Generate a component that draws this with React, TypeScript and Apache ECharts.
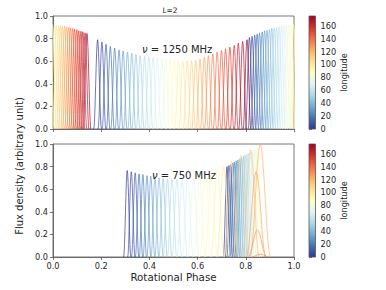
import React, { useEffect, useRef } from "react";
import * as echarts from "echarts";

// ---------- data ----------
const LON_MAX = 175;
const PHASE_TICKS_STEP = 0.2;
const FLUX_TICKS_STEP = 0.2;
const COLORBAR_TICKS = [0, 20, 40, 60, 80, 100, 120, 140, 160];

// normalised pulse profile (offsets in half-widths, relative height)
const PROFILE_U = [-1, -0.875, -0.75, -0.625, -0.5, -0.375, -0.25, -0.125, 0, 0.125, 0.25, 0.375, 0.5, 0.625, 0.75, 0.875, 1];
const PROFILE_V = [0, 0.038, 0.146, 0.309, 0.5, 0.691, 0.854, 0.962, 1, 0.962, 0.854, 0.691, 0.5, 0.309, 0.146, 0.038, 0];

// ν = 1250 MHz panel
const TOP_LON = [0, 5, 10, 15, 20, 25, 30, 35, 40, 45, 50, 55, 60, 65, 70, 75, 80, 85, 90, 95, 100, 105, 110, 115, 120, 125, 130, 135, 140, 145, 150, 155, 160, 165, 170, 175];
const TOP_MAIN_CENTER = [0.185, 0.203, 0.22, 0.238, 0.256, 0.274, 0.291, 0.309, 0.327, 0.344, 0.362, 0.38, 0.398, 0.415, 0.433, 0.451, 0.468, 0.486, 0.504, 0.521, 0.539, 0.557, 0.575, 0.592, 0.61, 0.628, 0.645, 0.663, 0.681, 0.699, 0.716, 0.734, 0.752, 0.769, 0.787, 0.805];
const TOP_MAIN_AMP = [0.79, 0.77, 0.75, 0.73, 0.715, 0.7, 0.69, 0.68, 0.67, 0.66, 0.65, 0.645, 0.64, 0.635, 0.63, 0.625, 0.62, 0.615, 0.61, 0.605, 0.6, 0.6, 0.605, 0.61, 0.62, 0.635, 0.65, 0.665, 0.68, 0.695, 0.71, 0.725, 0.74, 0.76, 0.775, 0.79];
const TOP_WRAP_CENTER = [0.815, 0.826, 0.837, 0.847, 0.857, 0.868, 0.878, 0.888, 0.898, 0.908, 0.918, 0.928, 0.938, 0.948, 0.958, 0.968, 0.978, 0.988, 0.998, 1.006, 1.014, 1.023, 1.031, 1.039, 1.048, 1.056, 1.065, 1.073, 1.082, 1.09, 1.099, 1.107, 1.116, 1.124, 1.133, 1.141];
const TOP_WRAP_AMP = [0.81, 0.82, 0.83, 0.84, 0.85, 0.86, 0.87, 0.875, 0.88, 0.89, 0.895, 0.9, 0.905, 0.91, 0.915, 0.92, 0.92, 0.925, 0.925, 0.92, 0.92, 0.915, 0.915, 0.91, 0.91, 0.905, 0.9, 0.895, 0.89, 0.885, 0.88, 0.87, 0.865, 0.86, 0.85, 0.845];
const TOP_HALF_WIDTH = 0.016;

// ν = 750 MHz panel
const BOT_MAIN_LON = [0, 5, 10, 15, 20, 25, 30, 35, 40, 45, 50, 55, 60, 65, 70, 75, 80, 85, 90, 95, 100, 105, 110, 115, 120, 125, 130, 135];
const BOT_MAIN_CENTER = [0.308, 0.325, 0.341, 0.357, 0.373, 0.39, 0.406, 0.423, 0.44, 0.457, 0.475, 0.494, 0.514, 0.536, 0.559, 0.583, 0.608, 0.633, 0.657, 0.682, 0.708, 0.74, 0.78, 0.82, 0.86, 0.843, 0.848, 0.86];
const BOT_MAIN_AMP = [0.765, 0.755, 0.745, 0.735, 0.73, 0.72, 0.715, 0.71, 0.7, 0.695, 0.69, 0.69, 0.685, 0.685, 0.69, 0.695, 0.705, 0.72, 0.745, 0.775, 0.8, 0.85, 0.9, 0.95, 1.0, 0.755, 0.24, 0.025];
const BOT_MAIN_HALF_WIDTH = [0.015, 0.015, 0.015, 0.015, 0.015, 0.016, 0.016, 0.016, 0.017, 0.017, 0.018, 0.019, 0.02, 0.021, 0.022, 0.023, 0.024, 0.025, 0.026, 0.027, 0.028, 0.03, 0.032, 0.035, 0.042, 0.04, 0.038, 0.035];
const BOT_SECOND_LON = [0, 5, 10, 15, 20, 25, 30, 35, 40, 45, 50, 55, 60, 65, 70, 75, 80, 85];
const BOT_SECOND_CENTER = [0.722, 0.73, 0.737, 0.745, 0.752, 0.76, 0.767, 0.775, 0.782, 0.79, 0.797, 0.805, 0.812, 0.82, 0.827, 0.835, 0.842, 0.85];
const BOT_SECOND_AMP = [0.8, 0.81, 0.82, 0.83, 0.84, 0.85, 0.86, 0.87, 0.88, 0.89, 0.9, 0.91, 0.92, 0.93, 0.94, 0.95, 0.96, 0.965];
const BOT_SECOND_HALF_WIDTH = 0.015;

// ---------- colormap (RdYlBu_r) ----------
const RDYLBU_R = ["#313695", "#4575b4", "#74add1", "#abd9e9", "#e0f3f8", "#ffffbf", "#fee090", "#fdae61", "#f46d43", "#d73027", "#a50026"];
function hexRgb(h: string) {
  return [parseInt(h.slice(1, 3), 16), parseInt(h.slice(3, 5), 16), parseInt(h.slice(5, 7), 16)];
}
function cmap(lon: number) {
  const n = RDYLBU_R.length - 1;
  const t = Math.max(0, Math.min(1, lon / LON_MAX)) * n;
  const i = Math.min(Math.floor(t), n - 1);
  const f = t - i;
  const a = hexRgb(RDYLBU_R[i]);
  const b = hexRgb(RDYLBU_R[i + 1]);
  const c = a.map((v, k) => Math.round(v + (b[k] - v) * f));
  return `rgb(${c[0]},${c[1]},${c[2]})`;
}

type Pulse = { lon: number; c: number; a: number; hw: number };

function pulseSeries(p: Pulse, idx: number) {
  const out: any[] = [];
  for (const shift of [-1, 0]) {
    const c = p.c + shift;
    if (c + p.hw <= 0 || c - p.hw >= 1) continue;
    out.push({
      type: "line",
      xAxisIndex: idx,
      yAxisIndex: idx,
      data: PROFILE_U.map((u, k) => [c + u * p.hw, p.a * PROFILE_V[k]]),
      symbol: "none",
      silent: true,
      clip: true,
      lineStyle: { color: cmap(p.lon), width: 0.85, opacity: 0.8 },
    });
  }
  return out;
}

const FONT = "DejaVu Sans";
const AX = "#555";
const TXT = "#262626";

const TOP_GRID = { left: 53, top: 16, width: 241, height: 113 };
const BOT_GRID = { left: 53, top: 144, width: 241, height: 113 };
const CB_W = 6.5;
const CB_X = 309;

function mainX(grid: number, labels: boolean) {
  return {
    type: "value",
    gridIndex: grid,
    min: 0,
    max: 1,
    interval: PHASE_TICKS_STEP,
    axisLine: { show: true, lineStyle: { color: AX, width: 0.8 } },
    axisTick: { show: true, length: 3, lineStyle: { color: AX, width: 0.8 } },
    axisLabel: { show: labels, fontSize: 8.2, color: TXT, fontFamily: FONT, margin: 5, formatter: (v: number) => v.toFixed(1) },
    splitLine: { show: false },
  };
}
function mainY(grid: number) {
  return {
    type: "value",
    gridIndex: grid,
    min: 0,
    max: 1,
    interval: FLUX_TICKS_STEP,
    axisLine: { show: true, lineStyle: { color: AX, width: 0.8 } },
    axisTick: { show: true, length: 3, lineStyle: { color: AX, width: 0.8 } },
    axisLabel: { fontSize: 8.2, color: TXT, fontFamily: FONT, margin: 5, formatter: (v: number) => v.toFixed(1) },
    splitLine: { show: false },
  };
}
function cbY(grid: number) {
  return {
    type: "value",
    gridIndex: grid,
    position: "right",
    min: 0,
    max: LON_MAX,
    axisLine: { show: false },
    axisTick: { show: true, length: 3, customValues: COLORBAR_TICKS, lineStyle: { color: AX, width: 0.8 } },
    axisLabel: { fontSize: 8.2, color: TXT, fontFamily: FONT, margin: 5, customValues: COLORBAR_TICKS },
    splitLine: { show: false },
    name: "longitude",
    nameLocation: "middle",
    nameRotate: 90,
    nameGap: 21,
    nameTextStyle: { fontSize: 8.2, color: TXT, fontFamily: FONT },
  };
}

function gradient() {
  return {
    type: "linear",
    x: 0,
    y: 0,
    x2: 0,
    y2: 1,
    colorStops: RDYLBU_R.slice().reverse().map((c, i) => ({ offset: i / (RDYLBU_R.length - 1), color: c })),
  };
}

export default function App() {
  const ref = useRef<HTMLDivElement>(null);
  useEffect(() => {
    if (!ref.current) return;
    const chart = echarts.init(ref.current, null, { renderer: "svg" });

    const topPulses: Pulse[] = [];
    TOP_LON.forEach((lon, i) => {
      topPulses.push({ lon, c: TOP_MAIN_CENTER[i], a: TOP_MAIN_AMP[i], hw: TOP_HALF_WIDTH });
      topPulses.push({ lon, c: TOP_WRAP_CENTER[i], a: TOP_WRAP_AMP[i], hw: TOP_HALF_WIDTH });
    });
    const botPulses: Pulse[] = [];
    BOT_MAIN_LON.forEach((lon, i) => {
      botPulses.push({ lon, c: BOT_MAIN_CENTER[i], a: BOT_MAIN_AMP[i], hw: BOT_MAIN_HALF_WIDTH[i] });
    });
    BOT_SECOND_LON.forEach((lon, i) => {
      botPulses.push({ lon, c: BOT_SECOND_CENTER[i], a: BOT_SECOND_AMP[i], hw: BOT_SECOND_HALF_WIDTH });
    });
    topPulses.sort((p, q) => p.lon - q.lon);
    botPulses.sort((p, q) => p.lon - q.lon);

    const series: any[] = [];
    topPulses.forEach((p) => series.push(...pulseSeries(p, 0)));
    botPulses.forEach((p) => series.push(...pulseSeries(p, 1)));

    const nuStyle = { fontStyle: "italic", fontSize: 10, fontFamily: FONT, fill: TXT };

    chart.setOption({
      animation: false,
      backgroundColor: "#fff",
      grid: [
        { ...TOP_GRID, show: true, borderColor: AX, borderWidth: 0.8 },
        { ...BOT_GRID, show: true, borderColor: AX, borderWidth: 0.8 },
        { left: CB_X, top: TOP_GRID.top, width: CB_W, height: TOP_GRID.height },
        { left: CB_X, top: BOT_GRID.top, width: CB_W, height: BOT_GRID.height },
      ],
      xAxis: [
        mainX(0, false),
        mainX(1, true),
        { type: "value", gridIndex: 2, show: false, min: 0, max: 1 },
        { type: "value", gridIndex: 3, show: false, min: 0, max: 1 },
      ],
      yAxis: [mainY(0), mainY(1), cbY(2), cbY(3)],
      series,
      graphic: [
        {
          type: "rect",
          shape: { x: CB_X, y: TOP_GRID.top, width: CB_W, height: TOP_GRID.height },
          style: { fill: gradient(), stroke: AX, lineWidth: 0.8 },
          z: 10,
        },
        {
          type: "rect",
          shape: { x: CB_X, y: BOT_GRID.top, width: CB_W, height: BOT_GRID.height },
          style: { fill: gradient(), stroke: AX, lineWidth: 0.8 },
          z: 10,
        },
        {
          type: "text",
          x: 170,
          y: 10,
          style: { text: "L=2", fontSize: 7.5, fontFamily: FONT, fill: TXT, align: "center", verticalAlign: "middle" },
          z: 10,
        },
        {
          type: "text",
          x: 142,
          y: 49,
          style: {
            text: "{nu|ν} = 1250 MHz",
            fontSize: 10,
            fontFamily: FONT,
            fill: TXT,
            align: "left",
            verticalAlign: "middle",
            rich: { nu: nuStyle },
          },
          z: 10,
        },
        {
          type: "text",
          x: 152,
          y: 175,
          style: {
            text: "{nu|ν} = 750 MHz",
            fontSize: 10,
            fontFamily: FONT,
            fill: TXT,
            align: "left",
            verticalAlign: "middle",
            rich: { nu: nuStyle },
          },
          z: 10,
        },
        {
          type: "text",
          x: 19,
          y: 166,
          rotation: Math.PI / 2,
          style: { text: "Flux density (arbitrary unit)", fontSize: 10, fontFamily: FONT, fill: TXT, align: "center", verticalAlign: "middle" },
          z: 10,
        },
        {
          type: "text",
          x: 173.5,
          y: 277,
          style: { text: "Rotational Phase", fontSize: 10.3, fontFamily: FONT, fill: TXT, align: "center", verticalAlign: "middle" },
          z: 10,
        },
      ],
    });
    return () => chart.dispose();
  }, []);
  return <div ref={ref} style={{ position: "absolute", left: 0, top: 0, width: 386, height: 290 }} />;
}
